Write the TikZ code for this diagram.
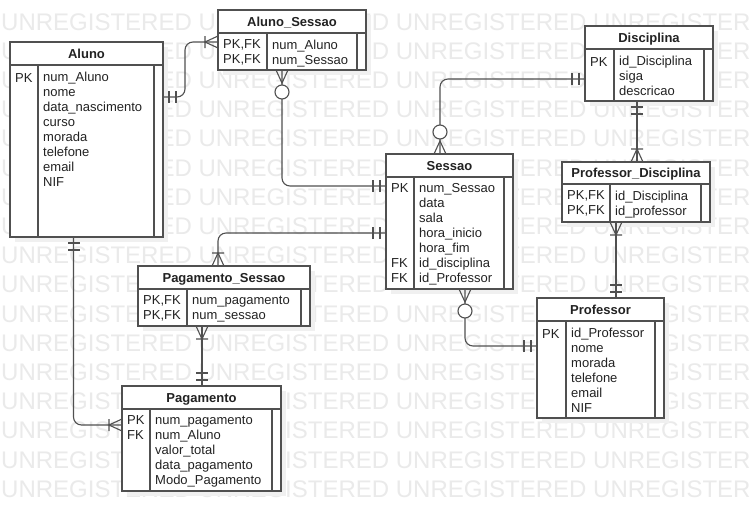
\documentclass[tikz,border=0pt]{standalone}
\usepackage{fontspec}
\setmainfont{Liberation Sans}
\usetikzlibrary{shadows}
\definecolor{cinzaLinha}{RGB}{80,80,80}
\definecolor{cinzaTexto}{RGB}{34,34,34}
\definecolor{cinzaMarca}{RGB}{234,234,234}

\begin{document}
\begin{tikzpicture}[
    x=1pt, y=-1pt,
    tabela/.style={
      rectangle,
      draw=cinzaLinha,
      fill=white,
      line width=1.2pt,
      anchor=north west,
      outer sep=0pt,
      inner sep=0pt,
      general shadow={fill=black!6, shadow xshift=5pt, shadow yshift=-5pt},
    },
    grade/.style={draw=cinzaLinha, line width=1.1pt},
    titulo/.style={
      anchor=base,
      inner sep=0pt,
      text=cinzaTexto,
      font=\fontsize{13}{15}\selectfont\bfseries,
    },
    campo/.style={
      anchor=north west,
      inner sep=0pt,
      align=left,
      text=cinzaTexto,
      font=\fontsize{13}{15}\selectfont,
      execute at begin node=\strut,
    },
    liga/.style={draw=cinzaLinha, line width=1.1pt, rounded corners=8pt},
    simbolo/.style={draw=cinzaLinha, line width=1.1pt},
    marcaAgua/.style={
      anchor=base west,
      inner sep=0pt,
      text=cinzaMarca,
      font=\fontsize{24}{28}\selectfont,
    },
    umSo/.pic={
      \draw[simbolo] (6,-6) -- (6,6) (13,-6) -- (13,6);
    },
    umMuitos/.pic={
      \draw[simbolo] (13,-6) -- (13,6) (0,-6) -- (13,0) -- (0,6);
    },
    zeroMuitos/.pic={
      \draw[simbolo] (0,-6) -- (13,0) -- (0,6);
      \draw[simbolo, fill=white] (22,0) circle[radius=7pt];
    },
  ]
  \useasboundingbox[fill=white] (0,0) rectangle (753,531);

  % marca de agua
  \foreach \k in {0,...,16}
    \node[marcaAgua] (wm\k) at (1,{30+29.2*\k})
      {UNREGISTERED UNREGISTERED UNREGISTERED UNREGISTER};

  % Aluno
  \node[tabela, minimum width=153, minimum height=195] (aluno) at (10,42) {};
  \node[titulo] (aluno-t) at ([yshift=-16pt]aluno.north) {Aluno};
  \draw[grade] ([yshift=-23pt]aluno.north west) -- ([yshift=-23pt]aluno.north east);
  \draw[grade] ([xshift=28pt,yshift=-23pt]aluno.north west) -- ([xshift=28pt]aluno.south west);
  \draw[grade] ([xshift=-9pt,yshift=-23pt]aluno.north east) -- ([xshift=-9pt]aluno.south east);
  \node[campo] (aluno-k) at ([xshift=5pt,yshift=-29.5pt]aluno.north west) {PK};
  \node[campo] (aluno-c) at ([xshift=33pt,yshift=-29.5pt]aluno.north west)
    {num\_Aluno\\nome\\data\_nascimento\\curso\\morada\\telefone\\email\\NIF};

  % Aluno_Sessao
  \node[tabela, minimum width=148, minimum height=60] (alunoSessao) at (218,10) {};
  \node[titulo] (alunoSessao-t) at ([yshift=-16pt]alunoSessao.north) {Aluno\_Sessao};
  \draw[grade] ([yshift=-23pt]alunoSessao.north west) -- ([yshift=-23pt]alunoSessao.north east);
  \draw[grade] ([xshift=49pt,yshift=-23pt]alunoSessao.north west) -- ([xshift=49pt]alunoSessao.south west);
  \draw[grade] ([xshift=-9pt,yshift=-23pt]alunoSessao.north east) -- ([xshift=-9pt]alunoSessao.south east);
  \node[campo] (alunoSessao-k) at ([xshift=5pt,yshift=-29.5pt]alunoSessao.north west) {PK,FK\\PK,FK};
  \node[campo] (alunoSessao-c) at ([xshift=54pt,yshift=-29.5pt]alunoSessao.north west)
    {num\_Aluno\\num\_Sessao};

  % Disciplina
  \node[tabela, minimum width=128, minimum height=75] (disciplina) at (585,26) {};
  \node[titulo] (disciplina-t) at ([yshift=-16pt]disciplina.north) {Disciplina};
  \draw[grade] ([yshift=-23pt]disciplina.north west) -- ([yshift=-23pt]disciplina.north east);
  \draw[grade] ([xshift=29pt,yshift=-23pt]disciplina.north west) -- ([xshift=29pt]disciplina.south west);
  \draw[grade] ([xshift=-9pt,yshift=-23pt]disciplina.north east) -- ([xshift=-9pt]disciplina.south east);
  \node[campo] (disciplina-k) at ([xshift=5pt,yshift=-29.5pt]disciplina.north west) {PK};
  \node[campo] (disciplina-c) at ([xshift=34pt,yshift=-29.5pt]disciplina.north west)
    {id\_Disciplina\\siga\\descricao};

  % Sessao
  \node[tabela, minimum width=127, minimum height=135] (sessao) at (386,154) {};
  \node[titulo] (sessao-t) at ([yshift=-16pt]sessao.north) {Sessao};
  \draw[grade] ([yshift=-23pt]sessao.north west) -- ([yshift=-23pt]sessao.north east);
  \draw[grade] ([xshift=28pt,yshift=-23pt]sessao.north west) -- ([xshift=28pt]sessao.south west);
  \draw[grade] ([xshift=-9pt,yshift=-23pt]sessao.north east) -- ([xshift=-9pt]sessao.south east);
  \node[campo] (sessao-k) at ([xshift=5pt,yshift=-29.5pt]sessao.north west)
    {PK\\ \\ \\ \\ \\FK\\FK};
  \node[campo] (sessao-c) at ([xshift=33pt,yshift=-29.5pt]sessao.north west)
    {num\_Sessao\\data\\sala\\hora\_inicio\\hora\_fim\\id\_disciplina\\id\_Professor};

  % Professor_Disciplina
  \node[tabela, minimum width=148, minimum height=60] (profDisc) at (562,162) {};
  \node[titulo] (profDisc-t) at ([yshift=-15.5pt]profDisc.north) {Professor\_Disciplina};
  \draw[grade] ([yshift=-22pt]profDisc.north west) -- ([yshift=-22pt]profDisc.north east);
  \draw[grade] ([xshift=48pt,yshift=-22pt]profDisc.north west) -- ([xshift=48pt]profDisc.south west);
  \draw[grade] ([xshift=-9pt,yshift=-22pt]profDisc.north east) -- ([xshift=-9pt]profDisc.south east);
  \node[campo] (profDisc-k) at ([xshift=5pt,yshift=-28.5pt]profDisc.north west) {PK,FK\\PK,FK};
  \node[campo] (profDisc-c) at ([xshift=53pt,yshift=-28.5pt]profDisc.north west)
    {id\_Disciplina\\id\_professor};

  % Professor
  \node[tabela, minimum width=127, minimum height=120] (professor) at (537,298) {};
  \node[titulo] (professor-t) at ([yshift=-16pt]professor.north) {Professor};
  \draw[grade] ([yshift=-23pt]professor.north west) -- ([yshift=-23pt]professor.north east);
  \draw[grade] ([xshift=29pt,yshift=-23pt]professor.north west) -- ([xshift=29pt]professor.south west);
  \draw[grade] ([xshift=-9pt,yshift=-23pt]professor.north east) -- ([xshift=-9pt]professor.south east);
  \node[campo] (professor-k) at ([xshift=5pt,yshift=-29.5pt]professor.north west) {PK};
  \node[campo] (professor-c) at ([xshift=34pt,yshift=-29.5pt]professor.north west)
    {id\_Professor\\nome\\morada\\telefone\\email\\NIF};

  % Pagamento_Sessao
  \node[tabela, minimum width=172, minimum height=60] (pagSessao) at (138,266) {};
  \node[titulo] (pagSessao-t) at ([yshift=-16pt]pagSessao.north) {Pagamento\_Sessao};
  \draw[grade] ([yshift=-23pt]pagSessao.north west) -- ([yshift=-23pt]pagSessao.north east);
  \draw[grade] ([xshift=49pt,yshift=-23pt]pagSessao.north west) -- ([xshift=49pt]pagSessao.south west);
  \draw[grade] ([xshift=-9pt,yshift=-23pt]pagSessao.north east) -- ([xshift=-9pt]pagSessao.south east);
  \node[campo] (pagSessao-k) at ([xshift=5pt,yshift=-29.5pt]pagSessao.north west) {PK,FK\\PK,FK};
  \node[campo] (pagSessao-c) at ([xshift=54pt,yshift=-29.5pt]pagSessao.north west)
    {num\_pagamento\\num\_sessao};

  % Pagamento
  \node[tabela, minimum width=159, minimum height=105] (pagamento) at (122,386) {};
  \node[titulo] (pagamento-t) at ([yshift=-16pt]pagamento.north) {Pagamento};
  \draw[grade] ([yshift=-23pt]pagamento.north west) -- ([yshift=-23pt]pagamento.north east);
  \draw[grade] ([xshift=28pt,yshift=-23pt]pagamento.north west) -- ([xshift=28pt]pagamento.south west);
  \draw[grade] ([xshift=-9pt,yshift=-23pt]pagamento.north east) -- ([xshift=-9pt]pagamento.south east);
  \node[campo] (pagamento-k) at ([xshift=5pt,yshift=-29.5pt]pagamento.north west) {PK\\FK};
  \node[campo] (pagamento-c) at ([xshift=33pt,yshift=-29.5pt]pagamento.north west)
    {num\_pagamento\\num\_Aluno\\valor\_total\\data\_pagamento\\Modo\_Pagamento};

  % ligacoes
  \draw[liga] ([yshift=-55pt]aluno.north east) -| ([xshift=-33pt,yshift=-2pt]alunoSessao.west)
    -- ([yshift=-2pt]alunoSessao.west);
  \pic at ([yshift=-55pt]aluno.north east) {umSo};
  \pic[rotate=180] at ([yshift=-2pt]alunoSessao.west) {umMuitos};

  \draw[liga] ([xshift=-10pt]alunoSessao.south) |- ([yshift=-32pt]sessao.north west);
  \pic[rotate=-90] at ([xshift=-10pt]alunoSessao.south) {zeroMuitos};
  \pic[rotate=180] at ([yshift=-32pt]sessao.north west) {umSo};

  \draw[liga] ([yshift=-79pt]sessao.north west) -| ([xshift=80pt]pagSessao.north west);
  \pic[rotate=180] at ([yshift=-79pt]sessao.north west) {umSo};
  \pic[rotate=90] at ([xshift=80pt]pagSessao.north west) {umMuitos};

  \draw[liga] ([xshift=-13pt]aluno.south) |- ([yshift=-39pt]pagamento.north west);
  \pic[rotate=-90] at ([xshift=-13pt]aluno.south) {umSo};
  \pic[rotate=180] at ([yshift=-39pt]pagamento.north west) {umMuitos};

  \draw[liga] ([xshift=-22pt]pagSessao.south) -- ([xshift=80pt]pagamento.north west);
  \pic[rotate=-90] at ([xshift=-22pt]pagSessao.south) {umMuitos};
  \pic[rotate=90] at ([xshift=80pt]pagamento.north west) {umSo};

  \draw[liga] ([yshift=-53pt]disciplina.north west) -| ([xshift=54pt]sessao.north west);
  \pic[rotate=180] at ([yshift=-53pt]disciplina.north west) {umSo};
  \pic[rotate=90] at ([xshift=54pt]sessao.north west) {zeroMuitos};

  \draw[liga] ([xshift=-12pt]disciplina.south) -- ([xshift=75pt]profDisc.north west);
  \pic[rotate=-90] at ([xshift=-12pt]disciplina.south) {umSo};
  \pic[rotate=90] at ([xshift=75pt]profDisc.north west) {umMuitos};

  \draw[liga] ([xshift=-20pt]profDisc.south) -- ([xshift=79pt]professor.north west);
  \pic[rotate=-90] at ([xshift=-20pt]profDisc.south) {umMuitos};
  \pic[rotate=90] at ([xshift=79pt]professor.north west) {umSo};

  \draw[liga] ([xshift=15.5pt]sessao.south) |- ([yshift=-48pt]professor.north west);
  \pic[rotate=-90] at ([xshift=15.5pt]sessao.south) {zeroMuitos};
  \pic[rotate=180] at ([yshift=-48pt]professor.north west) {umSo};
\end{tikzpicture}
\end{document}
